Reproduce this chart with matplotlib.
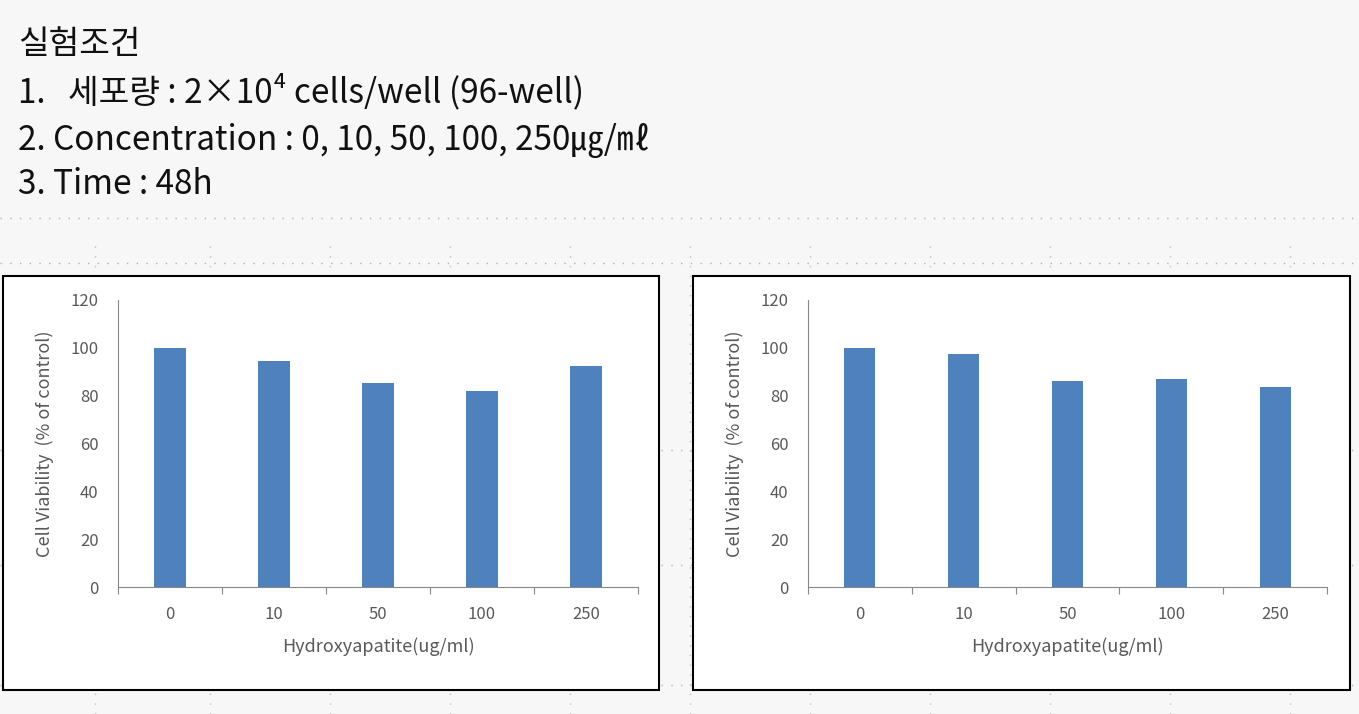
import matplotlib
matplotlib.use("Agg")
import matplotlib.pyplot as plt
from matplotlib.patches import Rectangle

plt.rcParams["font.family"] = ["Noto Sans CJK JP", "Noto Sans CJK KR", "DejaVu Sans"]

categories = ["0", "10", "50", "100", "250"]
left_values = [100, 94.3, 85.2, 81.8, 92.6]
right_values = [100, 97.6, 86.0, 86.8, 83.5]
title_lines = ["실험조건", "1.   세포량 : 2×10⁴ cells/well (96-well)",
               "2. Concentration : 0, 10, 50, 100, 250㎍/㎖", "3. Time : 48h"]

W, H = 1359, 714
fig = plt.figure(figsize=(W/100, H/100), dpi=100)
fig.patch.set_facecolor("#f7f7f7")

for yy in [218, 263, 450, 565, 685]:
    fig.add_artist(plt.Line2D([0, 1], [1-yy/H]*2, color="#b0b0b0", lw=1, ls=(0, (1, 6)), zorder=-3))
for xx in [95, 210, 330, 450, 570, 690, 810, 930, 1050, 1170, 1290]:
    fig.add_artist(plt.Line2D([xx/W]*2, [0, 1-240/H], color="#c0c0c0", lw=1, ls=(0, (1, 6)), zorder=-3))

ys = [45, 92, 140, 185]
for t, y in zip(title_lines, ys):
    fig.text(18/W, 1-y/H, t, fontsize=24, va="center", ha="left", color="#111111")

def panel(x0, x1, ax0, ax1, vals):
    fig.add_artist(Rectangle((x0/W, 1-690/H), (x1-x0)/W, (690-276)/H,
                             transform=fig.transFigure, facecolor="white",
                             edgecolor="black", lw=1.5, zorder=-2))
    ax = fig.add_axes([ax0/W, 1-587/H, (ax1-ax0)/W, (587-300)/H])
    ax.set_facecolor("none")
    ax.bar(range(len(categories)), vals, width=0.3, color="#4f81bd")
    ax.set_xlim(-0.5, 4.5)
    ax.set_ylim(0, 120)
    ax.set_yticks(range(0, 121, 20))
    ax.set_xticks([i-0.5 for i in range(6)])
    ax.set_xticklabels([])
    ax.set_xticks(range(5), minor=True)
    ax.set_xticklabels(categories, minor=True)
    ax.tick_params(axis="x", which="minor", length=0, pad=14, labelsize=12, labelcolor="#595959")
    ax.tick_params(axis="x", which="major", length=5, direction="out", color="#888888")
    ax.tick_params(axis="y", length=0, pad=14, labelsize=12, labelcolor="#595959")
    for s in ["top", "right"]:
        ax.spines[s].set_visible(False)
    for s in ["left", "bottom"]:
        ax.spines[s].set_color("#888888")
    ax.set_xlabel("Hydroxyapatite(ug/ml)", fontsize=13, color="#595959", labelpad=10)
    ax.set_ylabel("Cell Viability  (% of control)", fontsize=13, color="#595959", labelpad=12)

panel(3, 659, 118, 638, left_values)
panel(693, 1350, 808, 1327, right_values)

fig.savefig("out.png", dpi=100, facecolor=fig.get_facecolor())
